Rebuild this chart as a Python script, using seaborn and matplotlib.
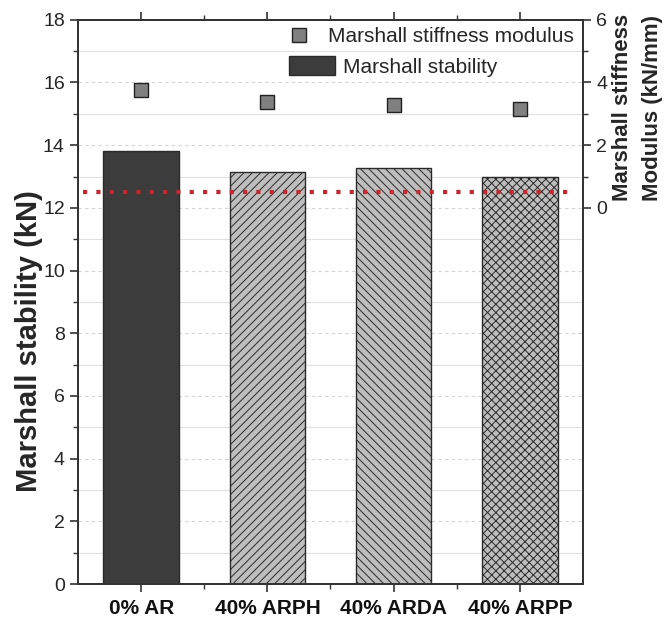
import matplotlib
matplotlib.use("Agg")
import matplotlib.pyplot as plt
import seaborn as sns
import pandas as pd
import numpy as np
from matplotlib.patches import Patch
from matplotlib.lines import Line2D
from matplotlib.ticker import MultipleLocator, FixedLocator

categories = ["0% AR", "40% ARPH", "40% ARDA", "40% ARPP"]
stability = [13.80, 13.16, 13.26, 12.97]
stiffness = [3.76, 3.37, 3.27, 3.14]
threshold = 12.5

sns.set_style("white")
plt.rcParams['font.family'] = ['Liberation Sans', 'DejaVu Sans']
plt.rcParams['hatch.linewidth'] = 0.7

df = pd.DataFrame({"mix": categories, "stability": stability, "stiffness": stiffness})

fig = plt.figure(figsize=(6.67, 6.19), dpi=100)
ax = fig.add_axes([0.117, 0.0565, 0.757, 0.9115])

bar_colors = ["#3c3c3c", "#bebebe", "#bebebe", "#bebebe"]
hatches = ["", "////", "\\\\\\\\", "xxxx"]
sns.barplot(data=df, x="mix", y="stability", ax=ax, width=0.6,
            palette=bar_colors, hue="mix", legend=False,
            edgecolor="#2a2a2a", linewidth=1.0, saturation=1)
for p, h in zip(ax.patches, hatches):
    p.set_hatch(h)
    p.set_edgecolor("#2a2a2a")

ax.axhline(threshold, color="#c8262b", linestyle=(0, (1, 2.2)), linewidth=3, zorder=5,
           xmin=0.01, xmax=0.985)

ax.set_xlim(-0.5, 3.5)
ax.set_ylim(0, 18)
ax.yaxis.set_major_locator(MultipleLocator(2))
ax.yaxis.set_minor_locator(MultipleLocator(1))
ax.xaxis.set_minor_locator(FixedLocator([0.5, 1.5, 2.5]))
ax.grid(which="major", axis="y", color="#d4d4d4", linestyle=(0, (3, 3)), linewidth=0.8)
ax.grid(which="minor", axis="y", color="#e0e0e0", linestyle="-", linewidth=0.8)
ax.set_axisbelow(True)
for s in ax.spines.values():
    s.set_color("#333333")
    s.set_linewidth(1.3)
ax.tick_params(axis="both", which="major", direction="out", length=6, width=1.2,
               color="#333333", labelsize=14, top=True, left=True, bottom=True)
ax.tick_params(axis="both", which="minor", direction="out", length=3.5, width=1.0,
               color="#333333", top=True, left=True, bottom=True)
ax.tick_params(axis="x", labelsize=15, pad=5)
for lab in ax.get_xticklabels():
    lab.set_fontweight("bold")
    lab.set_color("#111111")
ax.set_xlabel("")
ax.set_ylabel("Marshall stability (kN)", fontsize=21, fontweight="bold")
ax.yaxis.set_label_coords(-0.07, 0.43)

ax2 = ax.twinx()
sns.scatterplot(data=df, x="mix", y="stiffness", ax=ax2, marker="s", s=100,
                color="#808080", edgecolor="#222222", linewidth=1.0, zorder=6)
ax2.set_ylim(-12, 6)
ax2.yaxis.set_major_locator(FixedLocator([0, 2, 4, 6]))
ax2.yaxis.set_minor_locator(FixedLocator([1, 3, 5]))
ax2.tick_params(axis="y", which="major", direction="out", length=6, width=1.2,
                color="#333333", labelsize=14, right=True)
ax2.tick_params(axis="y", which="minor", direction="out", length=3.5, width=1.0,
                color="#333333", right=True)
for s in ax2.spines.values():
    s.set_color("#333333")
    s.set_linewidth(1.3)
ax2.set_ylabel("Marshall stiffness\nModulus (kN/mm)", fontsize=16, fontweight="bold",
               linespacing=1.6)
ax2.yaxis.set_label_coords(1.057, 0.844)
ax2.grid(False)
ax2.set_xlim(-0.5, 3.5)

leg1 = ax2.legend([Line2D([], [], marker="s", linestyle="none", markersize=10.5,
                          markerfacecolor="#808080", markeredgecolor="#222222")],
                  ["Marshall stiffness modulus"], loc="upper left",
                  bbox_to_anchor=(289 / 667, 1 - 27 / 619), bbox_transform=fig.transFigure,
                  frameon=False, fontsize=15, handlelength=1.0, handletextpad=0.87,
                  borderpad=0, borderaxespad=0)
ax2.add_artist(leg1)
ax2.legend([Patch(facecolor="#3c3c3c", edgecolor="#2a2a2a")], ["Marshall stability"],
           loc="upper left", bbox_to_anchor=(289 / 667, 1 - 56 / 619),
           bbox_transform=fig.transFigure, frameon=False, fontsize=15,
           handlelength=2.2, handleheight=1.06, handletextpad=0.4,
           borderpad=0, borderaxespad=0)

fig.savefig("out.png", dpi=100)
